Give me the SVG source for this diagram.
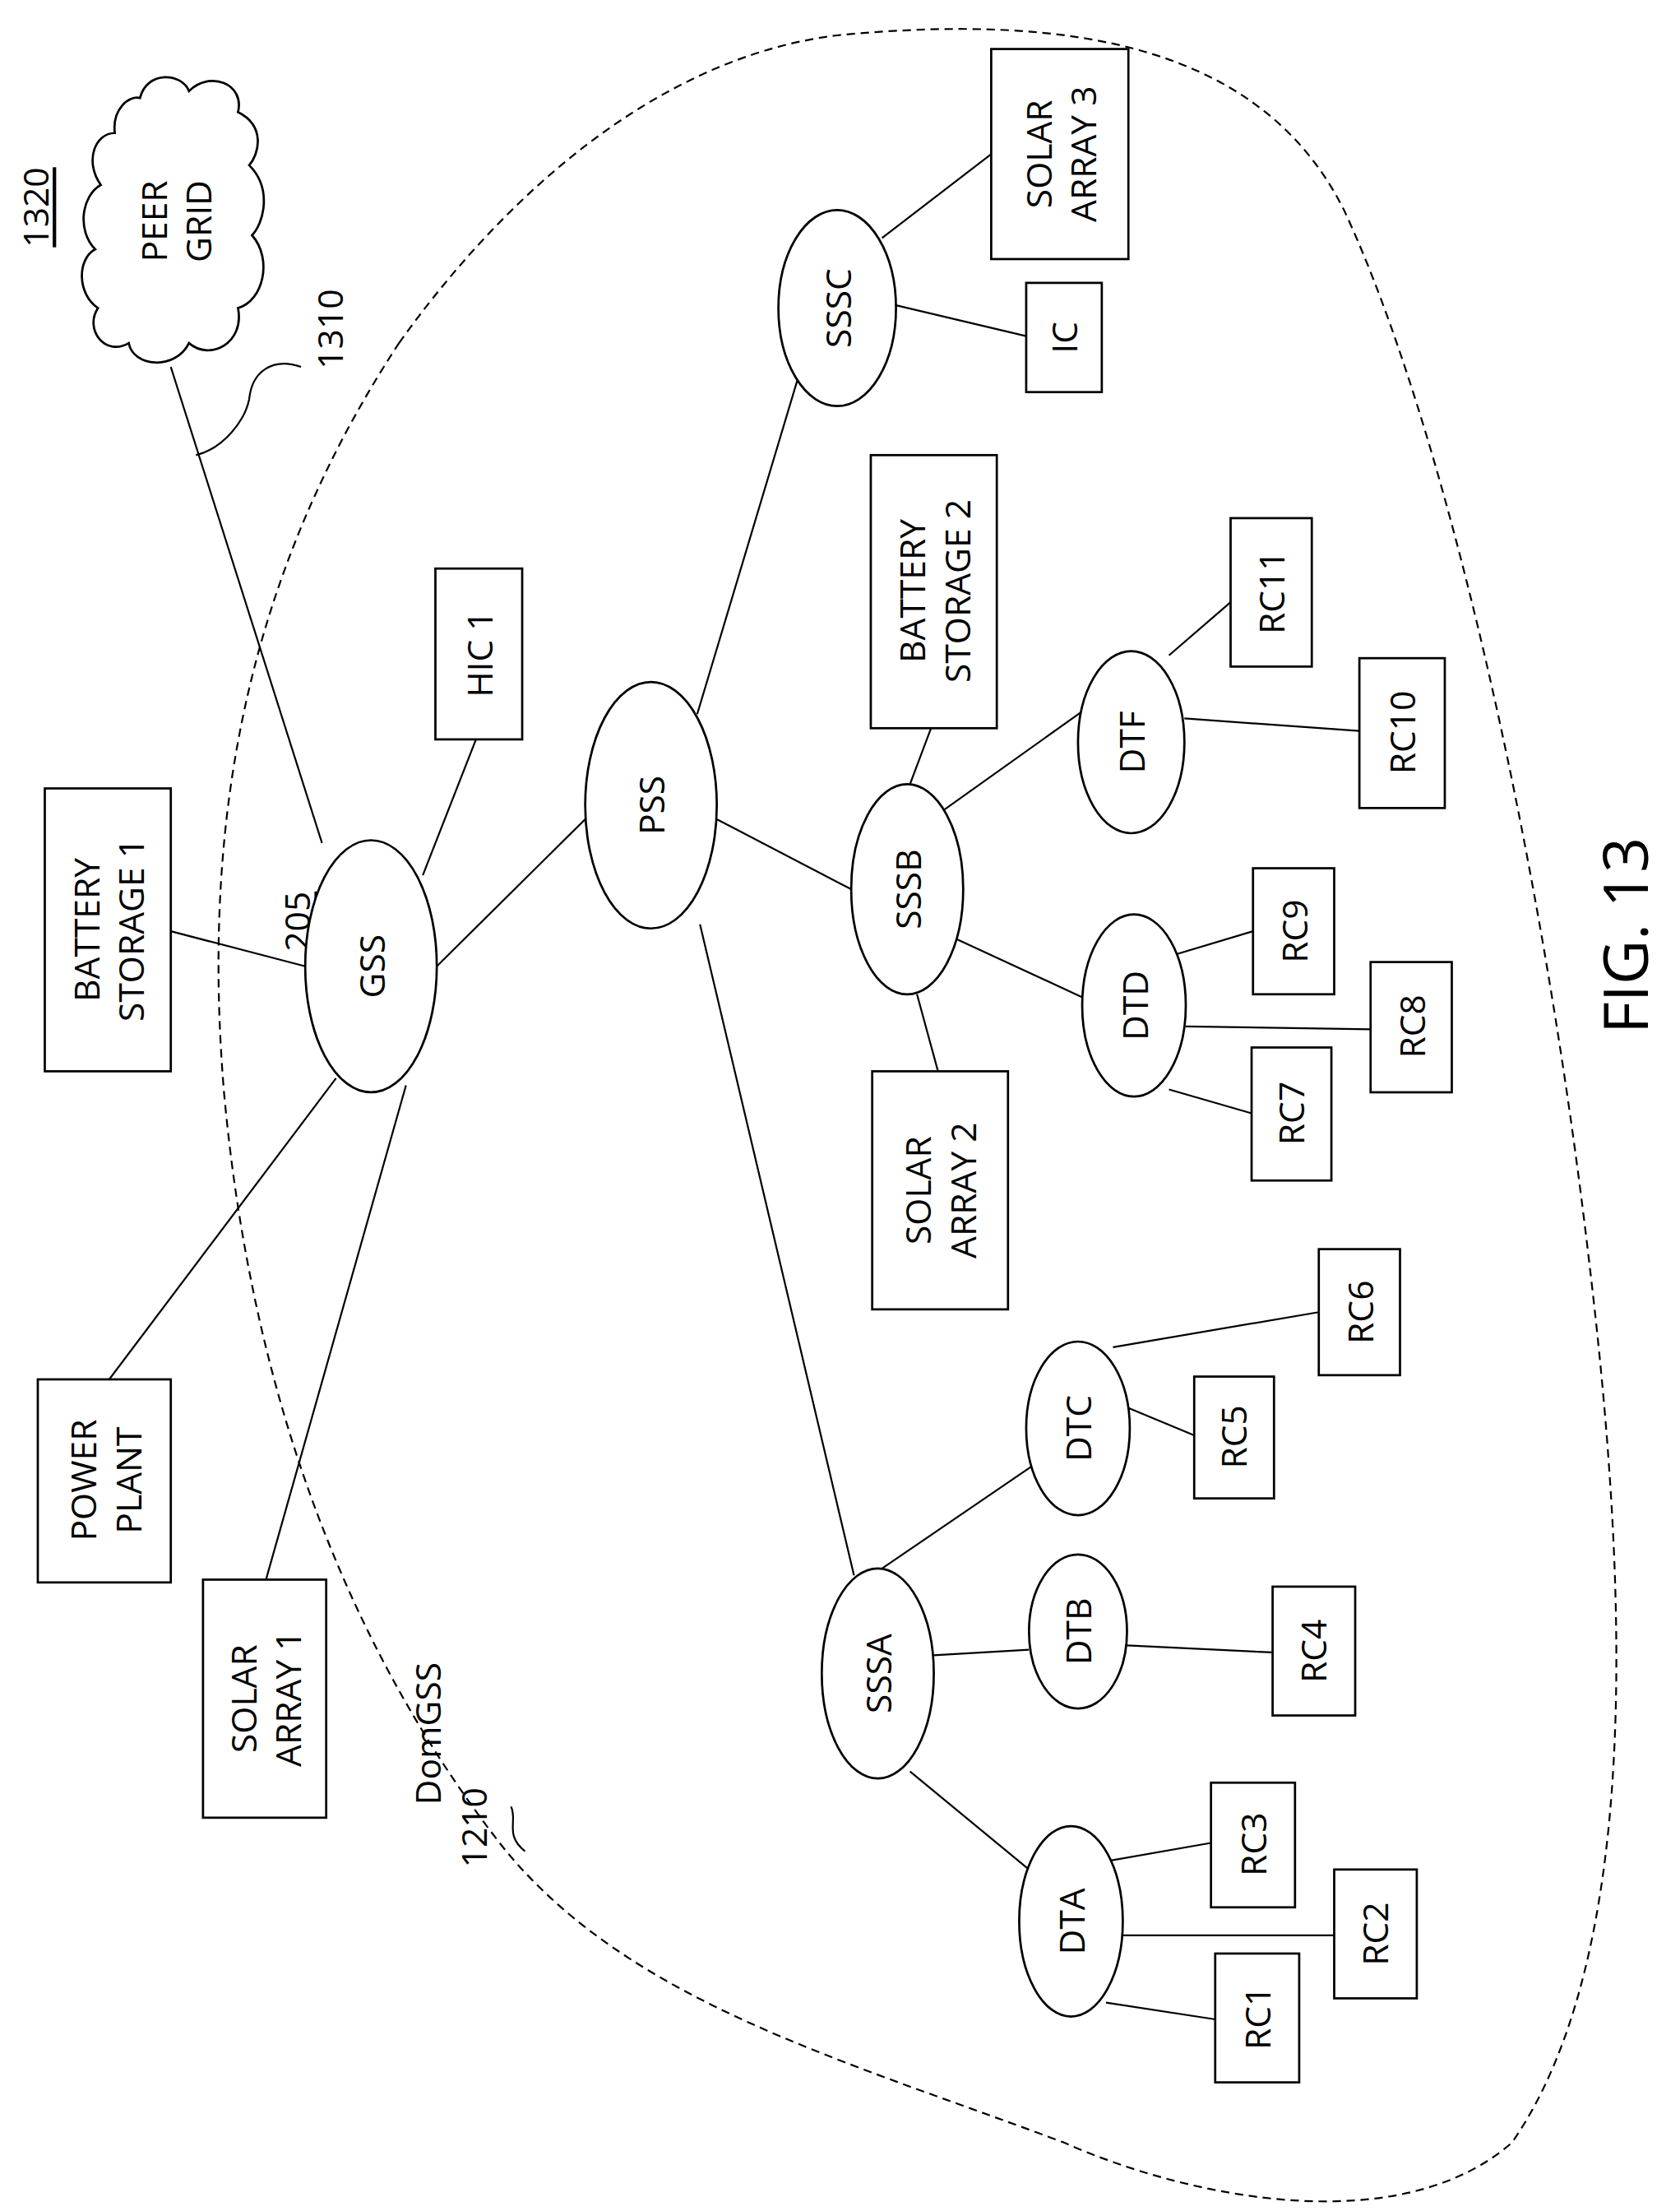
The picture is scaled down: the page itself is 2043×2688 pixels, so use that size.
<svg xmlns="http://www.w3.org/2000/svg" width="2043" height="2688" viewBox="0 0 2043 2688">
<style>
.s{fill:#fff;stroke:#000;stroke-width:1.6}
.l{stroke:#000;stroke-width:1.3;fill:none}
text{font-family:"Open Sans","Liberation Sans",sans-serif;font-size:25px;text-anchor:middle;dominant-baseline:central;fill:#000}
</style>
<rect width="2043" height="2688" fill="#fff"/>
<g transform="scale(1.7025)">
<path class="l" stroke-dasharray="6,4" d="M285,245 C360,140 470,40 600,25 C760,10 900,30 960,150 C1030,300 1100,600 1135,900 C1165,1150 1170,1400 1080,1530 C1000,1600 850,1570 760,1530 C600,1470 450,1430 360,1320 C250,1180 180,1000 160,780 C145,600 170,420 285,245 Z"/>
<g id="connectors" class="l">
<line x1="122" y1="262" x2="230" y2="602"/>
<line x1="340" y1="528" x2="302" y2="625"/>
<line x1="122" y1="665" x2="218" y2="690"/>
<line x1="78" y1="985" x2="240" y2="770"/>
<line x1="190" y1="1128" x2="290" y2="775"/>
<line x1="312" y1="690" x2="418" y2="585"/>
<line x1="498" y1="510" x2="570" y2="270"/>
<line x1="640" y1="218" x2="733" y2="240"/>
<line x1="630" y1="170" x2="708" y2="110"/>
<line x1="512" y1="585" x2="608" y2="635"/>
<line x1="500" y1="660" x2="610" y2="1125"/>
<line x1="650" y1="560" x2="665" y2="520"/>
<line x1="655" y1="710" x2="670" y2="765"/>
<line x1="672" y1="580" x2="773" y2="508"/>
<line x1="682" y1="670" x2="775" y2="713"/>
<line x1="846" y1="513" x2="971" y2="522"/>
<line x1="835" y1="468" x2="879" y2="430"/>
<line x1="835" y1="683" x2="895" y2="665"/>
<line x1="847" y1="733" x2="979" y2="735"/>
<line x1="835" y1="778" x2="894" y2="795"/>
<line x1="630" y1="1120" x2="740" y2="1045"/>
<line x1="667" y1="1182" x2="735" y2="1178"/>
<line x1="650" y1="1265" x2="735" y2="1335"/>
<line x1="795" y1="962" x2="942" y2="937"/>
<line x1="805" y1="1005" x2="853" y2="1025"/>
<line x1="805" y1="1175" x2="909" y2="1180"/>
<line x1="785" y1="1330" x2="865" y2="1316"/>
<line x1="802" y1="1382" x2="953" y2="1382"/>
<line x1="790" y1="1430" x2="868" y2="1442"/>
<path d="M140,325 C160,320 175,300 178,285 C180,265 195,255 215,262"/>
<path d="M375,1322 C360,1310 370,1300 365,1290"/>
</g>
<g id="peer"><path class="s" d="M100,70 C105,50 130,52 135,65 C150,50 175,60 170,80 C190,90 185,110 178,118 C195,135 188,160 180,168 C195,185 188,215 170,220 C175,245 150,258 135,245 C125,265 95,262 92,245 C75,255 60,235 70,220 C55,210 55,185 68,178 C55,165 58,140 72,132 C60,115 68,95 82,95 C80,78 92,68 100,70 Z"/><text transform="translate(125,158) rotate(-90)"><tspan x="0" dy="-16">PEER</tspan><tspan x="0" dy="32">GRID</tspan></text></g>
<g id="lbl"><text transform="translate(25,148) rotate(-90)" text-decoration="underline">1320</text>
<text transform="translate(235,235) rotate(-90)">1310</text>
<text transform="translate(212,658) rotate(-90)" text-decoration="underline">205</text>
<text transform="translate(305,1238) rotate(-90)">DomGSS</text>
<text transform="translate(338,1305) rotate(-90)">1210</text>
<text transform="translate(1160,668) rotate(-90)" style="font-size:44px">FIG. 13</text></g>
<g id="gss"><ellipse class="s" cx="265" cy="690" rx="47" ry="90"/><text transform="translate(265,690) rotate(-90)">GSS</text></g>
<g id="pss"><ellipse class="s" cx="465" cy="575" rx="47" ry="88"/><text transform="translate(465,575) rotate(-90)">PSS</text></g>
<g id="sssc"><ellipse class="s" cx="598" cy="220" rx="42" ry="70"/><text transform="translate(598,220) rotate(-90)">SSSC</text></g>
<g id="sssb"><ellipse class="s" cx="648" cy="635" rx="40" ry="75"/><text transform="translate(648,635) rotate(-90)">SSSB</text></g>
<g id="sssa"><ellipse class="s" cx="627" cy="1195" rx="40" ry="75"/><text transform="translate(627,1195) rotate(-90)">SSSA</text></g>
<g id="dtf"><ellipse class="s" cx="808" cy="530" rx="38" ry="65"/><text transform="translate(808,530) rotate(-90)">DTF</text></g>
<g id="dtd"><ellipse class="s" cx="810" cy="718" rx="37" ry="65"/><text transform="translate(810,718) rotate(-90)">DTD</text></g>
<g id="dtc"><ellipse class="s" cx="770" cy="1020" rx="37" ry="62"/><text transform="translate(770,1020) rotate(-90)">DTC</text></g>
<g id="dtb"><ellipse class="s" cx="770" cy="1165" rx="35" ry="55"/><text transform="translate(770,1165) rotate(-90)">DTB</text></g>
<g id="dta"><ellipse class="s" cx="765" cy="1372" rx="37" ry="68"/><text transform="translate(765,1372) rotate(-90)">DTA</text></g>
<g id="bs1"><rect class="s" x="32" y="563" width="90" height="202"/><text transform="translate(77,664) rotate(-90)"><tspan x="0" dy="-16">BATTERY</tspan><tspan x="0" dy="32">STORAGE 1</tspan></text></g>
<g id="hic1"><rect class="s" x="311" y="406" width="62" height="122"/><text transform="translate(342,467) rotate(-90)">HIC 1</text></g>
<g id="pp"><rect class="s" x="27" y="985" width="95" height="145"/><text transform="translate(75,1057) rotate(-90)"><tspan x="0" dy="-16">POWER</tspan><tspan x="0" dy="32">PLANT</tspan></text></g>
<g id="sa1"><rect class="s" x="145" y="1128" width="88" height="170"/><text transform="translate(189,1213) rotate(-90)"><tspan x="0" dy="-16">SOLAR</tspan><tspan x="0" dy="32">ARRAY 1</tspan></text></g>
<g id="sa3"><rect class="s" x="708" y="35" width="98" height="150"/><text transform="translate(757,110) rotate(-90)"><tspan x="0" dy="-16">SOLAR</tspan><tspan x="0" dy="32">ARRAY 3</tspan></text></g>
<g id="ic"><rect class="s" x="733" y="202" width="54" height="78"/><text transform="translate(760,241) rotate(-90)">IC</text></g>
<g id="bs2"><rect class="s" x="622" y="325" width="90" height="195"/><text transform="translate(667,422) rotate(-90)"><tspan x="0" dy="-16">BATTERY</tspan><tspan x="0" dy="32">STORAGE 2</tspan></text></g>
<g id="sa2"><rect class="s" x="623" y="765" width="97" height="170"/><text transform="translate(671,850) rotate(-90)"><tspan x="0" dy="-16">SOLAR</tspan><tspan x="0" dy="32">ARRAY 2</tspan></text></g>
<g id="rc11"><rect class="s" x="879" y="370" width="58" height="106"/><text transform="translate(908,423) rotate(-90)">RC11</text></g>
<g id="rc10"><rect class="s" x="971" y="470" width="61" height="107"/><text transform="translate(1001,523) rotate(-90)">RC10</text></g>
<g id="rc9"><rect class="s" x="895" y="620" width="58" height="90"/><text transform="translate(924,665) rotate(-90)">RC9</text></g>
<g id="rc8"><rect class="s" x="979" y="687" width="58" height="93"/><text transform="translate(1008,733) rotate(-90)">RC8</text></g>
<g id="rc7"><rect class="s" x="894" y="748" width="57" height="95"/><text transform="translate(922,795) rotate(-90)">RC7</text></g>
<g id="rc6"><rect class="s" x="942" y="892" width="58" height="90"/><text transform="translate(971,937) rotate(-90)">RC6</text></g>
<g id="rc5"><rect class="s" x="853" y="983" width="57" height="87"/><text transform="translate(881,1026) rotate(-90)">RC5</text></g>
<g id="rc4"><rect class="s" x="909" y="1133" width="59" height="92"/><text transform="translate(938,1179) rotate(-90)">RC4</text></g>
<g id="rc3"><rect class="s" x="865" y="1273" width="60" height="89"/><text transform="translate(895,1317) rotate(-90)">RC3</text></g>
<g id="rc2"><rect class="s" x="953" y="1335" width="59" height="92"/><text transform="translate(982,1381) rotate(-90)">RC2</text></g>
<g id="rc1"><rect class="s" x="868" y="1395" width="60" height="92"/><text transform="translate(898,1441) rotate(-90)">RC1</text></g>
</g>
</svg>
